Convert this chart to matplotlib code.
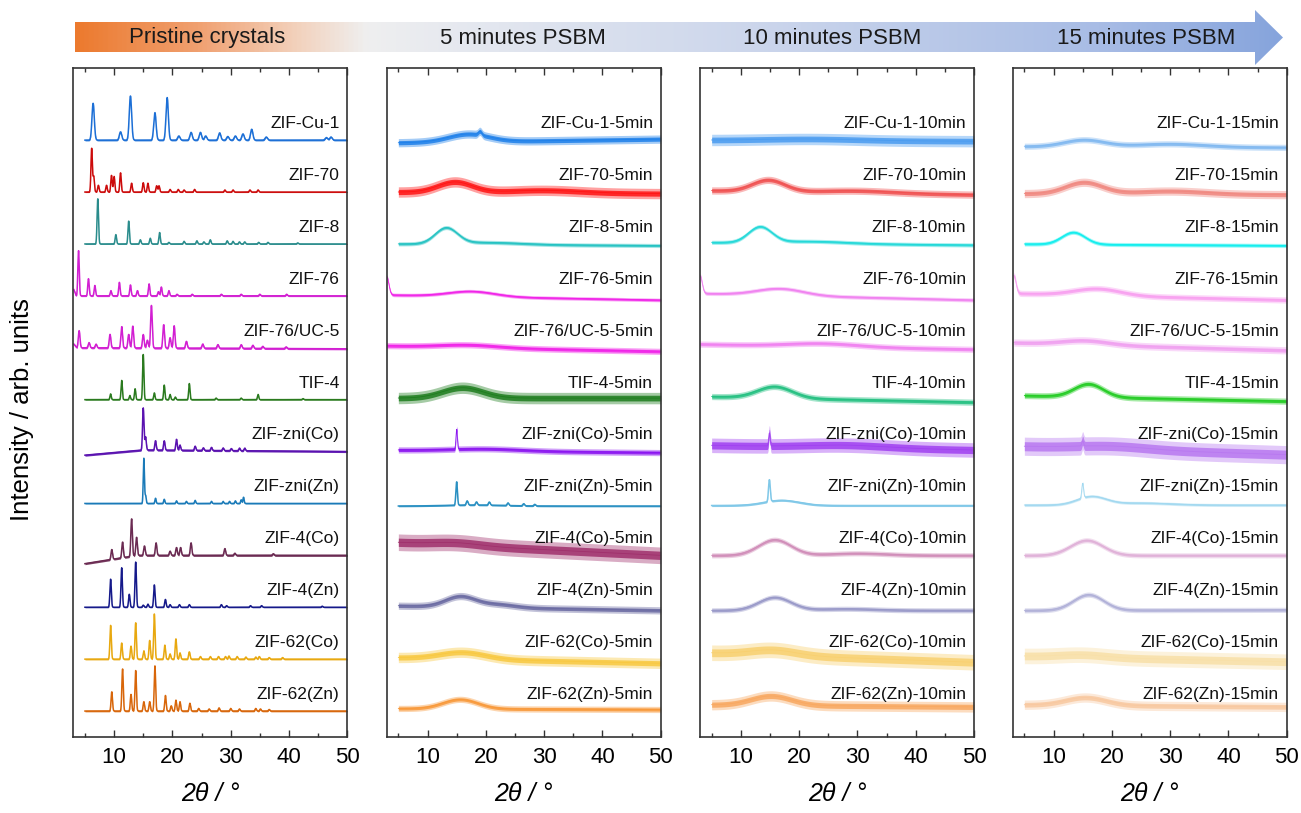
import numpy as np
import matplotlib
matplotlib.use("Agg")
import matplotlib.pyplot as plt
from matplotlib.colors import LinearSegmentedColormap
from matplotlib.patches import Polygon

plt.rcParams["font.family"] = ["Liberation Sans", "DejaVu Sans"]

SAMPLES = ["ZIF-Cu-1", "ZIF-70", "ZIF-8", "ZIF-76", "ZIF-76/UC-5", "TIF-4",
           "ZIF-zni(Co)", "ZIF-zni(Zn)", "ZIF-4(Co)", "ZIF-4(Zn)", "ZIF-62(Co)", "ZIF-62(Zn)"]
STAGES = ["Pristine crystals", "5 minutes PSBM", "10 minutes PSBM", "15 minutes PSBM"]
SUFFIXES = ["", "-5min", "-10min", "-15min"]

# ---- pristine patterns: (2theta, height) of each reflection
PK_CU1 = [(6.4, 0.71), (11.1, 0.16), (12.8, 0.85), (17.0, 0.53), (19.1, 0.82), (21.1, 0.08),
          (23.2, 0.15), (24.8, 0.15), (25.7, 0.08), (28.1, 0.14), (29.5, 0.07), (30.8, 0.08),
          (32.1, 0.12), (33.6, 0.21), (36.1, 0.06), (46.4, 0.05), (47.2, 0.06)]
PK_70 = [(6.15, 0.84), (6.5, 0.3), (7.3, 0.13), (8.7, 0.13), (9.55, 0.32), (10.0, 0.3), (11.1, 0.37),
         (13.0, 0.17), (15.0, 0.18), (15.8, 0.17), (17.3, 0.12), (17.7, 0.12), (19.6, 0.05),
         (21.0, 0.05), (22.0, 0.04), (23.8, 0.05), (29.0, 0.04), (30.4, 0.04), (33.3, 0.04), (34.7, 0.04)]
PK_8 = [(7.2, 0.87), (10.3, 0.18), (12.5, 0.44), (14.5, 0.08), (16.2, 0.11), (17.8, 0.22),
        (19.4, 0.03), (22.0, 0.05), (24.2, 0.06), (25.4, 0.04), (26.5, 0.08), (29.4, 0.06),
        (30.4, 0.05), (31.5, 0.04), (32.4, 0.04), (34.8, 0.03), (36.4, 0.03), (41.5, 0.02)]
PK_76 = [(3.9, 0.87), (5.6, 0.33), (6.7, 0.2), (9.45, 0.1), (10.9, 0.26), (12.8, 0.21), (14.0, 0.1),
         (16.0, 0.23), (17.6, 0.08), (18.1, 0.17), (19.4, 0.1), (20.8, 0.03), (23.4, 0.03),
         (28.4, 0.03), (31.8, 0.03), (35.0, 0.03), (39.6, 0.03)]
PK_76UC5 = [(4.0, 0.33), (5.7, 0.1), (6.9, 0.07), (9.3, 0.26), (11.3, 0.41), (12.5, 0.26), (13.2, 0.42),
            (15.0, 0.26), (15.7, 0.15), (16.4, 0.82), (18.5, 0.45), (19.6, 0.2), (20.3, 0.43),
            (22.4, 0.13), (25.2, 0.08), (27.8, 0.07), (31.8, 0.07), (33.8, 0.06), (35.5, 0.04), (39.5, 0.03)]
PK_TIF4 = [(9.4, 0.11), (11.3, 0.37), (12.7, 0.08), (13.6, 0.21), (15.0, 0.87), (16.9, 0.13),
           (18.6, 0.28), (19.6, 0.1), (20.5, 0.05), (22.9, 0.31), (27.5, 0.03), (31.8, 0.03),
           (34.7, 0.1), (42.4, 0.02)]
PK_ZNI_CO = [(15.0, 0.81), (15.4, 0.25), (17.1, 0.18), (18.6, 0.18), (20.7, 0.21), (21.3, 0.1),
             (23.9, 0.08), (25.3, 0.05), (26.7, 0.06), (28.7, 0.05), (30.1, 0.04), (31.5, 0.05), (32.4, 0.05)]
PK_ZNI_ZN = [(15.1, 0.87), (15.4, 0.15), (17.1, 0.1), (18.6, 0.08), (20.7, 0.05), (22.4, 0.04),
             (23.9, 0.06), (26.7, 0.04), (28.7, 0.04), (29.8, 0.04), (30.8, 0.05), (31.8, 0.07), (32.2, 0.12)]
PK_4CO = [(9.6, 0.19), (11.45, 0.3), (13.0, 0.72), (13.85, 0.35), (15.2, 0.18), (17.2, 0.24),
          (19.6, 0.08), (20.7, 0.15), (21.4, 0.15), (23.2, 0.24), (29.0, 0.13), (30.7, 0.04), (37.3, 0.03)]
PK_4ZN = [(9.4, 0.54), (11.3, 0.76), (12.6, 0.25), (13.7, 0.87), (15.0, 0.04), (15.8, 0.06),
          (16.9, 0.43), (18.8, 0.15), (19.6, 0.05), (21.2, 0.05), (22.9, 0.05), (28.4, 0.05),
          (29.3, 0.03), (33.4, 0.03), (35.3, 0.03), (45.7, 0.02)]
PK_62CO = [(9.4, 0.65), (11.3, 0.31), (12.9, 0.25), (13.7, 0.7), (15.1, 0.16), (16.1, 0.36),
           (16.9, 0.87), (18.7, 0.27), (19.6, 0.1), (20.6, 0.39), (21.3, 0.12), (22.9, 0.14),
           (24.8, 0.05), (26.5, 0.05), (27.9, 0.05), (29.1, 0.05), (29.7, 0.06), (31.1, 0.05),
           (32.6, 0.04), (34.3, 0.04), (34.9, 0.05), (36.6, 0.03), (38.9, 0.03)]
PK_62ZN = [(9.6, 0.37), (11.45, 0.81), (12.9, 0.32), (13.7, 0.78), (15.1, 0.18), (16.1, 0.18),
           (17.0, 0.87), (18.8, 0.3), (19.8, 0.1), (20.6, 0.21), (21.3, 0.18), (23.0, 0.15),
           (24.5, 0.05), (26.3, 0.04), (28.0, 0.06), (30.0, 0.05), (31.5, 0.04), (34.3, 0.05),
           (35.1, 0.04), (36.6, 0.03)]
PRISTINE_PEAKS = [PK_CU1, PK_70, PK_8, PK_76, PK_76UC5, PK_TIF4,
                  PK_ZNI_CO, PK_ZNI_ZN, PK_4CO, PK_4ZN, PK_62CO, PK_62ZN]
PRISTINE_WIDTH = [0.2, 0.12, 0.12, 0.12, 0.14, 0.11, 0.12, 0.1, 0.13, 0.12, 0.12, 0.12]
PRISTINE_NOISE = [0.03, 0.02, 0.02, 0.03, 0.04, 0.02, 0.04, 0.02, 0.04, 0.02, 0.03, 0.03]
# baseline (2theta, shift) points, first point = start of the scan
PRISTINE_BASE = [[(5, 0), (50, 0)], [(5, 0), (50, 0)], [(5, 0), (50, 0)],
                 [(3.1, 0.12), (3.5, 0), (50, 0)], [(3.1, 0.07), (3.6, 0), (50, -0.02)],
                 [(5, 0), (50, 0)], [(5, -0.07), (15, 0.03), (50, 0)], [(5, 0), (50, 0)],
                 [(5, -0.16), (14, 0), (50, 0)], [(5, 0), (50, 0)], [(5, 0), (50, 0)], [(5, 0), (50, 0)]]

# ---- milled patterns: baseline (start, end), amorphous hump (centre, height, width),
#      extra features (centre, height, width), noise band
START_5MIN = [5, 5, 5, 3.0, 3.0, 5, 5, 5, 5, 5, 5, 5]
BASE_5MIN = [(-0.05, 0.02), (0.0, -0.03), (0.0, -0.03), (0.02, -0.08), (0.04, -0.07), (0.03, 0.03),
             (0.03, -0.02), (-0.05, -0.05), (0.25, 0.0), (0.03, -0.06), (0.03, -0.08), (0.05, 0.03)]
HUMP_5MIN = [(17.0, 0.15, 3.5), (14.7, 0.2, 3.0), (13.2, 0.3, 1.9), (17.5, 0.1, 4.0), (17.0, 0.05, 5.0),
             (16.0, 0.2, 3.5), (20.0, 0.04, 6.0), (18.0, 0.02, 5.0), (15.0, 0.05, 4.0), (15.6, 0.2, 2.6),
             (16.0, 0.13, 4.0), (15.6, 0.18, 3.0)]
EXTRA_5MIN = [[(19.0, 0.07, 0.3)], [(30, 0.05, 6)], [(20, 0.04, 6)], [(3.0, 0.35, 0.35)], [], [],
              [(15.0, 0.38, 0.12)],
              [(15.0, 0.45, 0.13), (16.8, 0.08, 0.15), (18.4, 0.06, 0.15), (20.6, 0.06, 0.15),
               (23.8, 0.05, 0.15), (26.5, 0.04, 0.15), (28.4, 0.03, 0.15)],
              [], [(22, 0.06, 3)], [], []]
NOISE_5MIN = [0.16, 0.2, 0.08, 0.07, 0.12, 0.22, 0.12, 0.03, 0.32, 0.14, 0.2, 0.12]

START_10MIN = [5, 5, 5, 3.0, 3.0, 5, 5, 5, 5, 5, 5, 5]
BASE_10MIN = [(0.0, -0.02), (0.03, -0.05), (0.03, -0.02), (0.05, -0.08), (0.07, -0.03), (0.06, -0.05),
              (0.12, 0.03), (-0.04, -0.04), (0.0, 0.0), (-0.06, -0.06), (0.12, -0.06), (0.12, 0.08)]
HUMP_10MIN = [(22.0, 0.03, 8.0), (14.7, 0.22, 2.8), (13.3, 0.3, 2.0), (16.7, 0.13, 4.0), (24.0, 0.06, 6.0),
              (15.8, 0.22, 3.0), (28.0, 0.05, 7.0), (17.0, 0.1, 3.0), (15.8, 0.3, 2.8), (15.8, 0.25, 2.8),
              (15.5, 0.1, 4.0), (15.2, 0.18, 3.5)]
EXTRA_10MIN = [[], [(30, 0.04, 6)], [(22, 0.04, 6)], [(3.0, 0.34, 0.35)], [], [],
               [(14.9, 0.25, 0.12)], [(14.9, 0.42, 0.15)], [(30, 0.04, 5)], [(28, 0.03, 5)], [], []]
NOISE_10MIN = [0.22, 0.14, 0.08, 0.08, 0.12, 0.12, 0.28, 0.04, 0.1, 0.1, 0.3, 0.2]

START_15MIN = [5, 5, 5, 3.2, 3.2, 5, 5, 5, 5, 5, 5, 5]
BASE_15MIN = [(-0.12, -0.14), (-0.03, -0.05), (0.0, -0.03), (0.05, -0.08), (0.1, -0.05), (0.08, -0.03),
              (0.1, -0.06), (-0.03, -0.03), (0.0, 0.0), (-0.06, -0.05), (0.06, -0.05), (0.12, 0.08)]
HUMP_15MIN = [(15.2, 0.13, 3.5), (15.2, 0.22, 3.2), (13.4, 0.23, 2.0), (17.5, 0.13, 4.0), (15.4, 0.08, 4.0),
              (16.0, 0.25, 2.5), (20.0, 0.06, 6.0), (16.5, 0.16, 2.5), (15.7, 0.29, 2.8), (16.0, 0.3, 2.6),
              (15.0, 0.05, 4.0), (15.5, 0.15, 3.5)]
EXTRA_15MIN = [[(30, 0.06, 6)], [(30, 0.06, 6)], [], [(3.2, 0.34, 0.35)], [], [],
               [(15.0, 0.1, 0.15)], [(15.0, 0.28, 0.15), (25, 0.04, 5)], [], [], [], []]
NOISE_15MIN = [0.12, 0.16, 0.08, 0.12, 0.14, 0.12, 0.35, 0.06, 0.1, 0.1, 0.3, 0.18]

COLORS = [
    ["#1c6fd6", "#cc0a0a", "#2a8c8c", "#d21fd2", "#d21fd2", "#2a7a1e",
     "#5a12b0", "#1a7ab8", "#6b2a52", "#15198a", "#e8a80f", "#d8660a"],
    ["#1e80ea", "#ff1414", "#22c2c2", "#f020e8", "#f020e8", "#1e7d1e",
     "#8a12f0", "#2a90c2", "#a0306c", "#6a6aa2", "#f8c840", "#f89838"],
    ["#4a9cf0", "#f05050", "#20d8d8", "#f080f0", "#f080f0", "#22c080",
     "#a040f0", "#80c8e8", "#d08cb8", "#9898c8", "#f8d070", "#f8a860"],
    ["#80b8f0", "#f08880", "#10eeee", "#f8a0f0", "#f0a0f0", "#22cc22",
     "#b878f0", "#a0d8f0", "#e0b0d8", "#b0b0d8", "#f8e0a8", "#f8c8a0"],
]


def peak_sum(x, peaks, width=None):
    y = np.zeros_like(x)
    for pk in peaks:
        if width is None:
            pos, h, w = pk
        else:
            (pos, h), w = pk, width
        y += h * np.exp(-0.5 * ((x - pos) / w) ** 2)
    return y


def draw_trace(ax, x, y, noise, color):
    if noise >= 0.05:
        # fuzzy outer band plus denser core, to mimic the noisy scan
        ax.fill_between(x, y - noise / 2, y + noise / 2, color=color, lw=0, alpha=0.4)
        ax.fill_between(x, y - noise / 4, y + noise / 4, color=color, lw=0, alpha=0.85)
        ax.plot(x, y, color=color, lw=0.6)
    else:
        ax.fill_between(x, y - noise / 2, y + noise / 2, color=color, lw=0, alpha=0.9)
        ax.plot(x, y, color=color, lw=1.1)


fig = plt.figure(figsize=(13.01, 8.13), dpi=100)
W, H = 1301, 813
lefts = [73.3, 386.7, 700, 1012.7]
milled = [(START_5MIN, BASE_5MIN, HUMP_5MIN, EXTRA_5MIN, NOISE_5MIN),
          (START_10MIN, BASE_10MIN, HUMP_10MIN, EXTRA_10MIN, NOISE_10MIN),
          (START_15MIN, BASE_15MIN, HUMP_15MIN, EXTRA_15MIN, NOISE_15MIN)]

for p in range(4):
    ax = fig.add_axes([lefts[p] / W, 1 - 737 / H, 274 / W, 669 / H])
    for i, name in enumerate(SAMPLES):
        off = 11 - i
        if p == 0:
            bx, by = zip(*PRISTINE_BASE[i])
            x = np.linspace(bx[0], 50, 4000)
            y = off + np.interp(x, bx, by) + peak_sum(x, PRISTINE_PEAKS[i], PRISTINE_WIDTH[i])
            noise = PRISTINE_NOISE[i]
        else:
            start, base, hump, extra, noise = [d[i] for d in milled[p - 1]]
            x = np.linspace(start, 50, 4000)
            y = (off + np.interp(x, [start, 50], base)
                 + peak_sum(x, [hump]) + peak_sum(x, extra))
        draw_trace(ax, x, y, noise, COLORS[p][i])
        ax.text(48.7, off + 0.32, name + SUFFIXES[p], ha="right", va="center",
                fontsize=12.5, color="#111111", zorder=5)

    ax.set_xlim(3, 50)
    ax.set_ylim(-0.5, 12.39)
    ax.set_xticks([10, 20, 30, 40, 50])
    ax.set_xticks([5, 15, 25, 35, 45], minor=True)
    ax.set_yticks([])
    ax.tick_params(which="both", direction="in", top=True, bottom=True, width=1, colors="#333333",
                   labelcolor="black")
    ax.tick_params(which="major", length=5, labelsize=16, pad=7)
    ax.tick_params(which="minor", length=3)
    for s in ax.spines.values():
        s.set_linewidth(1.2)
        s.set_color("#333333")
    ax.set_xlabel("2θ / °", fontsize=18, style="italic", labelpad=10)

fig.text(22.5 / W, 1 - 410 / H, "Intensity / arb. units", rotation=90, ha="center", va="center",
         fontsize=18.5)

# gradient arrow banner on top
bax = fig.add_axes([0, 0, 1, 1], facecolor="none")
bax.set_xlim(0, W)
bax.set_ylim(H, 0)
bax.axis("off")
cmap = LinearSegmentedColormap.from_list("banner", [
    (0.0, "#ec7a2e"), (0.1, "#f0a070"), (0.18, "#f3d0ba"), (0.24, "#efefef"),
    (0.35, "#e2e6ef"), (0.6, "#c8d3eb"), (0.85, "#a8bce5"), (1.0, "#86a4dc")])
grad = np.linspace(0, 1, 512).reshape(1, -1)
img = bax.imshow(grad, cmap=cmap, extent=[75, 1283, 65, 10], aspect="auto", zorder=1)
arrow = Polygon([(75, 22), (1255, 22), (1255, 10), (1283, 37.5), (1255, 65), (1255, 52), (75, 52)],
                closed=True, facecolor="none", edgecolor="none", transform=bax.transData)
bax.add_patch(arrow)
img.set_clip_path(arrow)
for label, cx in zip(STAGES, [207, 523, 832, 1146]):
    bax.text(cx, 38, label, ha="center", va="center", fontsize=16, color="#1a1a1a", zorder=3)

fig.savefig("out.png", dpi=100)
